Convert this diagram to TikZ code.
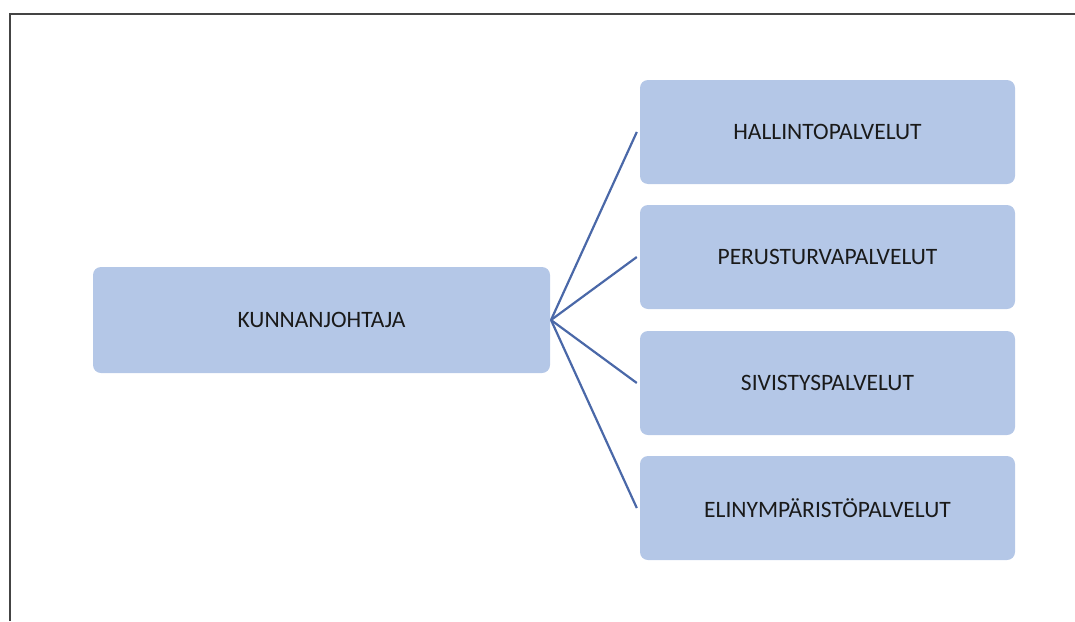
\documentclass[tikz,border=0pt]{standalone}
\usepackage{fontspec}
\setmainfont{Carlito}
\definecolor{boxfill}{HTML}{B4C7E7}
\definecolor{linkcol}{HTML}{4A68A8}
\definecolor{txtcol}{HTML}{1A1A1A}
\definecolor{framecol}{HTML}{444444}
\begin{document}
\begin{tikzpicture}[x=1pt,y=-1pt,
  box/.style={fill=boxfill,draw=none,rounded corners=8pt,inner sep=0pt,
    text=txtcol,font=\fontsize{23.5}{28}\selectfont},
  link/.style={draw=linkcol,line width=2.2pt}]
\useasboundingbox (0,0) rectangle (1075,621);
\draw[framecol,line width=2pt] (10,621) -- (10,14) -- (1075,14);
\node[box,minimum width=457pt,minimum height=106pt] (k) at (321.5,320) {KUNNANJOHTAJA};
\node[box,minimum width=375pt,minimum height=104pt] (h) at (827.5,132) {HALLINTOPALVELUT};
\node[box,minimum width=375pt,minimum height=104pt] (p) at (827.5,257) {PERUSTURVAPALVELUT};
\node[box,minimum width=375pt,minimum height=104pt] (s) at (827.5,383) {SIVISTYSPALVELUT};
\node[box,minimum width=375pt,minimum height=104pt] (e) at (827.5,508) {ELINYMPÄRISTÖPALVELUT};
\coordinate (o) at (551,320);
\foreach \t in {h,p,s,e}{
  \draw[link] (o) -- ([xshift=-3pt]\t.west);
}
\end{tikzpicture}
\end{document}
